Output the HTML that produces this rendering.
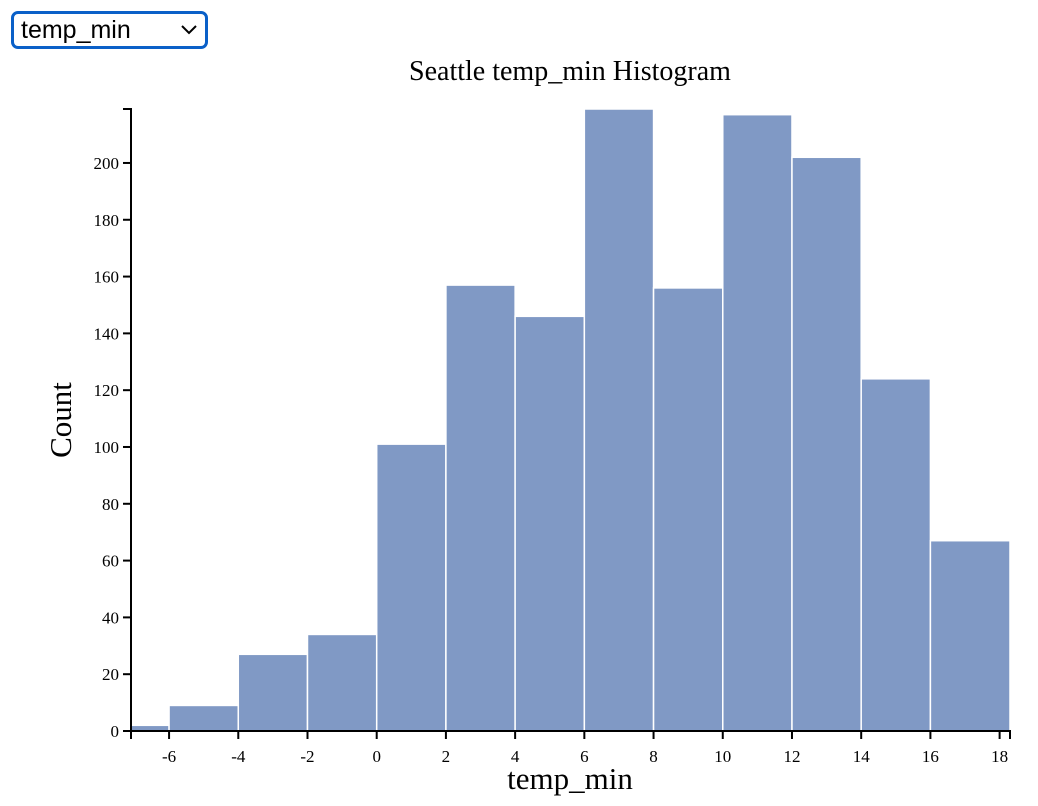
<!DOCTYPE html>
<html><head><meta charset="utf-8">
<style>
html,body{margin:0;padding:0;background:#fff;width:1038px;height:806px;overflow:hidden}
#sel{position:absolute;left:11px;top:11px;width:197px;height:38px;box-sizing:border-box;border:3px solid #0a60c8;border-radius:7px;font-family:"Liberation Sans",sans-serif;font-size:25px;line-height:32px;padding-left:7px;color:#000}
#sel svg{position:absolute;right:8px;top:11px}
</style></head><body>
<div id="sel">temp_min<svg width="16" height="10" viewBox="0 0 16 10"><path d="M1 1 L8 8 L15 1" fill="none" stroke="#000" stroke-width="2"/></svg></div>
<svg id="chart" width="1038" height="806" style="position:absolute;left:0;top:0"></svg>
<script>
const binEdges=[-7.1,-6,-4,-2,0,2,4,6,8,10,12,14,16,18.3];
const counts=[2,9,27,34,101,157,146,219,156,217,202,124,67];
const xTicks=[-6,-4,-2,0,2,4,6,8,10,12,14,16,18];
const yTicks=[0,20,40,60,80,100,120,140,160,180,200];
const xMin=-7.1,xMax=18.3,yMax=219;
const L=131,R=1010,T=109,B=731;
const ns='http://www.w3.org/2000/svg';
const svg=document.getElementById('chart');
const x=v=>L+(v-xMin)/(xMax-xMin)*(R-L);
const y=v=>B-v/yMax*(B-T);
function mk(t,a,p){const e=document.createElementNS(ns,t);for(const k in a)e.setAttribute(k,a[k]);(p||svg).appendChild(e);return e;}
const bars=mk('g',{});


counts.forEach((c,i)=>{
 const r=mk('rect',{x:x(binEdges[i]),y:y(c),width:x(binEdges[i+1])-x(binEdges[i]),height:B-y(c),fill:'#8099c5',stroke:'#fff','stroke-width':1.5},bars);
 
 
});
const ff='"Liberation Serif",serif';
const xa=mk('g',{});


mk('path',{d:`M${L},${B+8}V${B}H${R}V${B+8}`,fill:'none',stroke:'#000','stroke-width':2},xa);
xTicks.forEach(t=>{
 mk('line',{x1:x(t),x2:x(t),y1:B,y2:B+8,stroke:'#000','stroke-width':2},xa);
 const tx=mk('text',{x:x(t),y:B+31,'text-anchor':'middle','font-family':ff,'font-size':17},xa);tx.textContent=t;
 
 
});
const ya=mk('g',{});


mk('path',{d:`M${L-8},${T}H${L}V${B}H${L-8}`,fill:'none',stroke:'#000','stroke-width':2},ya);
yTicks.forEach(t=>{
 mk('line',{x1:L-8,x2:L,y1:y(t),y2:y(t),stroke:'#000','stroke-width':2},ya);
 const tx=mk('text',{x:L-12,y:y(t)+6,'text-anchor':'end','font-family':ff,'font-size':17},ya);tx.textContent=t;
 
 
});
const ti=mk('text',{x:570,y:80,'text-anchor':'middle','font-family':ff,'font-size':28});ti.textContent='Seattle temp_min Histogram';


const xt=mk('text',{x:570,y:789,'text-anchor':'middle','font-family':ff,'font-size':31});xt.textContent='temp_min';


const yt=mk('text',{x:0,y:0,'text-anchor':'middle','font-family':ff,'font-size':31,transform:'translate(71,420) rotate(-90)'});yt.textContent='Count';


</script>
</body></html>
